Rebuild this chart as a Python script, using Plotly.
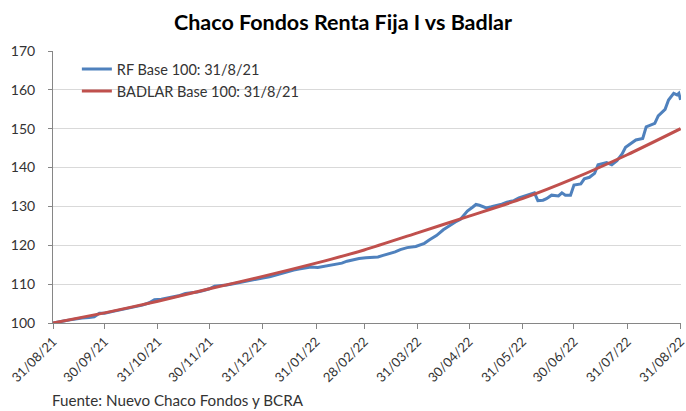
import plotly.graph_objects as go

# ---- data ----
rf_dates = [
    "2021-08-31", "2021-09-03", "2021-09-07", "2021-09-10", "2021-09-14", "2021-09-17",
    "2021-09-21", "2021-09-24", "2021-09-27", "2021-09-30", "2021-10-05", "2021-10-08",
    "2021-10-13", "2021-10-18", "2021-10-22", "2021-10-26", "2021-10-29", "2021-11-02",
    "2021-11-05", "2021-11-09", "2021-11-12", "2021-11-16", "2021-11-19", "2021-11-23",
    "2021-11-26", "2021-11-30", "2021-12-03", "2021-12-07", "2021-12-10", "2021-12-14",
    "2021-12-17", "2021-12-21", "2021-12-24", "2021-12-28", "2021-12-31", "2022-01-04",
    "2022-01-07", "2022-01-11", "2022-01-14", "2022-01-18", "2022-01-21", "2022-01-25",
    "2022-01-28", "2022-02-01", "2022-02-04", "2022-02-08", "2022-02-11", "2022-02-15",
    "2022-02-18", "2022-02-22", "2022-02-25", "2022-03-01", "2022-03-04", "2022-03-08",
    "2022-03-11", "2022-03-15", "2022-03-18", "2022-03-21", "2022-03-25", "2022-03-30",
    "2022-04-04", "2022-04-07", "2022-04-11", "2022-04-15", "2022-04-20", "2022-04-22",
    "2022-04-25", "2022-04-27", "2022-04-29", "2022-05-02", "2022-05-04", "2022-05-06",
    "2022-05-10", "2022-05-13", "2022-05-16", "2022-05-19", "2022-05-22", "2022-05-26",
    "2022-05-29", "2022-05-31", "2022-06-03", "2022-06-07", "2022-06-09", "2022-06-12",
    "2022-06-14", "2022-06-17", "2022-06-21", "2022-06-23", "2022-06-25", "2022-06-28",
    "2022-06-30", "2022-07-04", "2022-07-06", "2022-07-09", "2022-07-12", "2022-07-14",
    "2022-07-19", "2022-07-22", "2022-07-25", "2022-07-28", "2022-07-30", "2022-08-02",
    "2022-08-05", "2022-08-09", "2022-08-11", "2022-08-16", "2022-08-18", "2022-08-22",
    "2022-08-24", "2022-08-27", "2022-08-29", "2022-08-30", "2022-08-31",
]
rf_values = [
    100.0, 100.3, 100.6, 100.8, 101.1, 101.3,
    101.4, 101.6, 102.5, 102.5, 103.0, 103.3,
    103.8, 104.2, 104.6, 105.2, 106.0, 106.1,
    106.4, 106.7, 107.0, 107.6, 107.7, 108.0,
    108.3, 108.8, 109.5, 109.6, 109.8, 110.1,
    110.4, 110.8, 111.1, 111.3, 111.6, 111.9,
    112.3, 112.7, 113.2, 113.6, 113.9, 114.1,
    114.4, 114.3, 114.5, 114.8, 115.1, 115.4,
    115.9, 116.4, 116.6, 116.8, 116.9, 117.0,
    117.4, 117.9, 118.3, 118.9, 119.4, 119.7,
    120.5, 121.4, 122.5, 124.0, 125.5, 126.0,
    126.7, 127.8, 128.8, 129.8, 130.5, 130.3,
    129.6, 129.9, 130.2, 130.6, 131.1, 131.5,
    132.2, 132.5, 133.0, 133.5, 131.5, 131.6,
    132.0, 132.9, 132.7, 133.5, 132.9, 132.9,
    135.5, 135.8, 137.1, 137.5, 138.5, 140.7,
    141.3, 140.7, 141.8, 143.5, 145.2, 146.1,
    147.1, 147.5, 150.5, 151.4, 153.3, 155.0,
    157.4, 159.1, 158.7, 159.1, 157.4,
]

badlar_dates = [
    "2021-08-31", "2021-09-30", "2021-10-31", "2021-11-30", "2021-12-31", "2022-01-31",
    "2022-02-28", "2022-03-31", "2022-04-30", "2022-05-31", "2022-06-30", "2022-07-31",
    "2022-08-31",
]
badlar_values = [100.0, 102.6, 105.6, 108.8, 112.0, 115.4, 118.8, 123.2, 127.5, 132.0, 137.2, 143.3, 150.0]

tick_dates = [
    "2021-08-31", "2021-09-30", "2021-10-31", "2021-11-30", "2021-12-31", "2022-01-31",
    "2022-02-28", "2022-03-31", "2022-04-30", "2022-05-31", "2022-06-30", "2022-07-31",
    "2022-08-31",
]
tick_labels = [
    "31/08/21", "30/09/21", "31/10/21", "30/11/21", "31/12/21", "31/01/22",
    "28/02/22", "31/03/22", "30/04/22", "31/05/22", "30/06/22", "31/07/22", "31/08/22",
]
y_ticks = [100, 110, 120, 130, 140, 150, 160, 170]

FONT = "Lato"
TXT = "#333333"

fig = go.Figure()
fig.add_trace(go.Scatter(
    x=rf_dates, y=rf_values, mode="lines", name="RF Base 100: 31/8/21",
    line=dict(color="#4F81BD", width=3), cliponaxis=False,
))
fig.add_trace(go.Scatter(
    x=badlar_dates, y=badlar_values, mode="lines", name="BADLAR Base 100: 31/8/21",
    line=dict(color="#C0504D", width=3, shape="spline", smoothing=0.6), cliponaxis=False,
))

fig.update_layout(
    width=686, height=411,
    margin=dict(l=53, r=5, t=51, b=88, autoexpand=False),
    paper_bgcolor="white", plot_bgcolor="white",
    font=dict(family=FONT, color=TXT, size=13),
    title=dict(
        text="<b>Chaco Fondos Renta Fija I vs Badlar</b>",
        x=0.5, xref="container", xanchor="center",
        y=1 - 22 / 411, yref="container", yanchor="middle",
        font=dict(family=FONT, size=21.5, color="#000000"),
        automargin=False,
    ),
    showlegend=True,
    legend=dict(
        x=0.038, y=0.992, xanchor="left", yanchor="top",
        bgcolor="rgba(0,0,0,0)", font=dict(family=FONT, size=14.5, color=TXT),
        tracegroupgap=0, itemwidth=30,
    ),
    xaxis=dict(
        type="date", automargin=False,
        range=["2021-08-31", "2022-08-31 06:00"],
        tickmode="array", tickvals=tick_dates, ticktext=tick_labels,
        tickangle=-45, ticks="outside", ticklen=5, tickcolor="#868686",
        ticklabeloverflow="allow",
        showline=True, linecolor="#868686", linewidth=1,
        showgrid=False, zeroline=False,
        tickfont=dict(family=FONT, size=13, color=TXT),
    ),
    yaxis=dict(
        range=[100, 170], tickmode="array", tickvals=y_ticks, automargin=False,
        ticks="outside", ticklen=4, tickcolor="#868686",
        showline=True, linecolor="#868686", linewidth=1,
        showgrid=True, gridcolor="#D9D9D9", gridwidth=1, zeroline=False,
        tickfont=dict(family=FONT, size=14, color=TXT),
        ticklabelstandoff=10,
    ),
)

fig.add_annotation(
    text="Fuente: Nuevo Chaco Fondos y BCRA",
    xref="paper", yref="paper", x=(50 - 53) / 628, y=(323 - 400) / 272,
    xanchor="left", yanchor="middle", showarrow=False,
    font=dict(family=FONT, size=15.2, color=TXT),
)

fig.write_html(
    "out.html",
    config={"displayModeBar": False},
    post_script="document.body.style.margin='0';document.body.style.padding='0';",
)
